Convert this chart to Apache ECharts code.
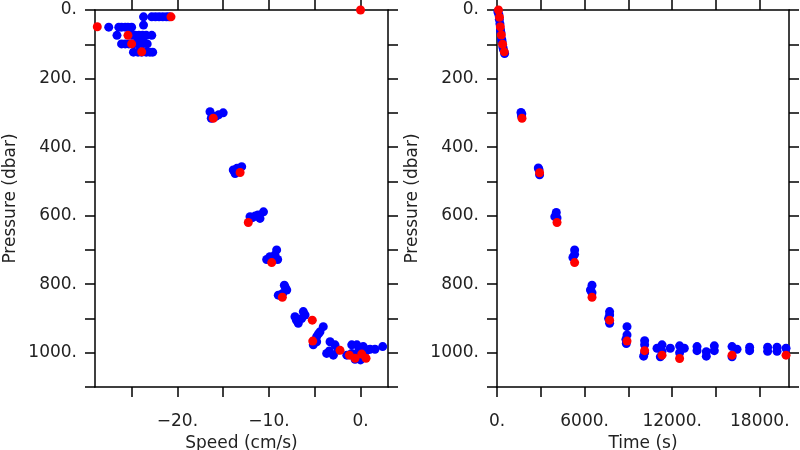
<!DOCTYPE html>
<html>
<head>
<meta charset="utf-8">
<script src="https://cdn.jsdelivr.net/npm/echarts@6/dist/echarts.min.js"></script>
<style>html,body{margin:0;padding:0;background:#fff}#c{width:800px;height:450px}</style>
</head>
<body>
<div id="c"></div>
<script>
// ---- Data ----
// Left panel: [speed (cm/s), pressure (dbar)]
const speedPressureBlue = [
  [-23.7,20],[-22.8,20],[-22.4,20],[-22.0,20],[-21.6,20],[-21.2,20],[-20.9,20],
  [-23.7,44],
  [-27.5,50],[-26.4,50],[-26.1,50],[-25.7,50],[-25.4,50],[-25.0,50],
  [-26.6,74],[-25.0,74],[-24.6,74],[-24.2,74],[-23.8,74],[-23.4,74],[-22.8,74],
  [-24.3,88],[-23.8,88],
  [-26.1,99],[-25.7,99],[-25.3,99],[-24.8,99],[-24.3,99],[-23.8,99],[-23.3,99],
  [-24.8,123],[-24.3,123],[-23.9,123],[-23.4,123],[-23.0,123],[-22.7,123],
  [-16.44,297],[-15.0,300],[-15.5,306],[-16.3,316],[-15.8,310],
  [-13.9,467],[-13.5,462],[-12.98,457],[-13.7,477],[-13.3,470],
  [-12.07,603],[-11.5,601],[-10.98,608],[-10.6,589],[-11.2,598],[-11.8,606],
  [-9.16,700],[-9.34,715],[-10.25,728],[-9.9,720],[-9.05,728],[-9.5,725],
  [-8.32,803],[-8.06,817],[-8.5,827],[-8.98,832],[-8.2,810],
  [-7.16,895],[-6.25,880],[-6.43,900],[-6.8,914],[-6.06,890],[-7.0,905],
  [-4.07,924],[-4.43,939],[-4.79,953],[-5.16,977],[-4.79,968],[-4.6,945],
  [-3.33,968],[-2.79,977],[-3.7,1002],[-2.97,1007],[-2.43,992],[-3.4,995],
  [-0.96,977],[-0.4,977],[0.3,982],[1.04,990],[1.58,990],[2.42,982],[-1.5,1007],
  [-0.96,1002],[-0.23,997],[0.5,997],[-0.6,1019],[0,1021],[0.73,992]
];
const speedPressureRed = [
  [0,0],[-20.7,20],[-28.75,49],[-25.4,74],[-25.0,99],[-23.9,122],[-16.08,316],
  [-13.15,474],[-12.26,620],[-9.7,737],[-8.54,838],[-5.27,905],[-5.22,966],
  [-2.24,993],[-1.22,1007],[-0.6,1016],[0.13,1004],[0.6,1016]
];
// Right panel: [time (s), pressure (dbar)]
const timePressureBlue = [
  [60,5],[130,14],[160,28],[200,40],[240,58],[270,66],[320,85],[350,92],[400,108],[440,115],[520,127],
  [1644,299],[1700,303],[1680,309],
  [2830,461],[2880,466],[2918,481],
  [4062,591],[3960,603],[4110,607],
  [5316,700],[5200,722],[5316,713],
  [6508,803],[6400,817],[6508,825],
  [7713,880],[7713,890],[7645,900],[7713,914],
  [8905,924],[8905,948],[8857,973],[8830,961],
  [10111,965],[10111,977],[10043,1010],[10111,1000],
  [10960,987],[11303,977],[11186,1012],[11303,996],
  [11871,987],
  [12508,980],[12508,1000],[12830,987],
  [13700,982],[13700,994],
  [14337,997],[14337,1010],
  [14885,980],[14885,994],
  [16098,982],[16098,1012],
  [16440,990],
  [17303,984],[17303,994],
  [18536,984],[18536,996],
  [19180,984],[19180,996],
  [19797,987]
];
const timePressureRed = [
  [100,0],[170,21],[230,49],[300,73],[383,100],[499,122],[1712,316],[2918,475],
  [4110,620],[5316,737],[6508,838],[7713,905],[8905,966],[10111,994],[11303,1007],
  [12508,1017],[16098,1007],[19797,1007]
];
// Axis ticks / labels
const speedTicks = [-25,-20,-15,-10,-5,0];
const speedLabels = [-20,-10,0];
const timeTicks = [0,3000,6000,9000,12000,15000,18000];
const timeLabels = [0,6000,12000,18000];
const pressureTicks = [0,100,200,300,400,500,600,700,800,900,1000,1100];
const pressureLabels = [0,200,400,600,800,1000];

// ---- Styling ----
const FONT = 'DejaVu Sans';
const TXT = '#222';
const fmt = v => (v < 0 ? '\u2212' : '') + Math.abs(v) + '.';
const line = {show:true, onZero:false, lineStyle:{color:'#000', width:1.5}};
const tick = vals => ({show:true, length:10, customValues: vals, lineStyle:{color:'#000', width:1.5}});
const lbl = (vals, margin) => ({show:true, customValues: vals, formatter: fmt, margin: margin,
  fontFamily: FONT, fontSize: 17, color: TXT});
const nameStyle = {fontFamily: FONT, fontSize: 17, color: TXT};

function xAxes(gi, min, max, ticks, labels, name) {
  return [
    {type:'value', gridIndex:gi, position:'bottom', min, max, axisLine:line,
     axisTick:tick(ticks), axisLabel:lbl(labels, 26), splitLine:{show:false},
     name, nameLocation:'middle', nameGap:45, nameTextStyle:nameStyle},
    {type:'value', gridIndex:gi, position:'top', min, max, axisLine:line,
     axisTick:tick(ticks), axisLabel:{show:false}, splitLine:{show:false}}
  ];
}
function yAxes(gi) {
  return [
    {type:'value', gridIndex:gi, position:'left', min:0, max:1100, inverse:true, axisLine:line,
     axisTick:tick(pressureTicks), axisLabel:lbl(pressureLabels, 18), splitLine:{show:false},
     name:'Pressure (dbar)', nameLocation:'middle', nameGap:76, nameTextStyle:nameStyle},
    {type:'value', gridIndex:gi, position:'right', min:0, max:1100, inverse:true, axisLine:line,
     axisTick:tick(pressureTicks), axisLabel:{show:false}, splitLine:{show:false}}
  ];
}
function sc(data, xi, yi, color, z) {
  return {type:'scatter', xAxisIndex:xi, yAxisIndex:yi, data, symbol:'circle', symbolSize:9,
    itemStyle:{color, opacity:1}, z, clip:true, silent:true, animation:false};
}

const chart = echarts.init(document.getElementById('c'), null, {renderer:'canvas'});
chart.setOption({
  animation:false,
  backgroundColor:'#fff',
  grid:[
    {left:95, top:10, width:293, height:377, containLabel:false, outerBoundsMode:'none'},
    {left:497, top:10, width:292, height:377, containLabel:false, outerBoundsMode:'none'}
  ],
  xAxis:[].concat(
    xAxes(0, -29, 3, speedTicks, speedLabels, 'Speed (cm/s)'),
    xAxes(1, 0, 20000, timeTicks, timeLabels, 'Time (s)')
  ),
  yAxis:[].concat(yAxes(0), yAxes(1)),
  series:[
    sc(speedPressureBlue, 0, 0, '#0000ff', 2),
    sc(speedPressureRed, 0, 0, '#ff0000', 3),
    sc(timePressureBlue, 2, 2, '#0000ff', 2),
    sc(timePressureRed, 2, 2, '#ff0000', 3)
  ]
});
</script>
</body>
</html>
